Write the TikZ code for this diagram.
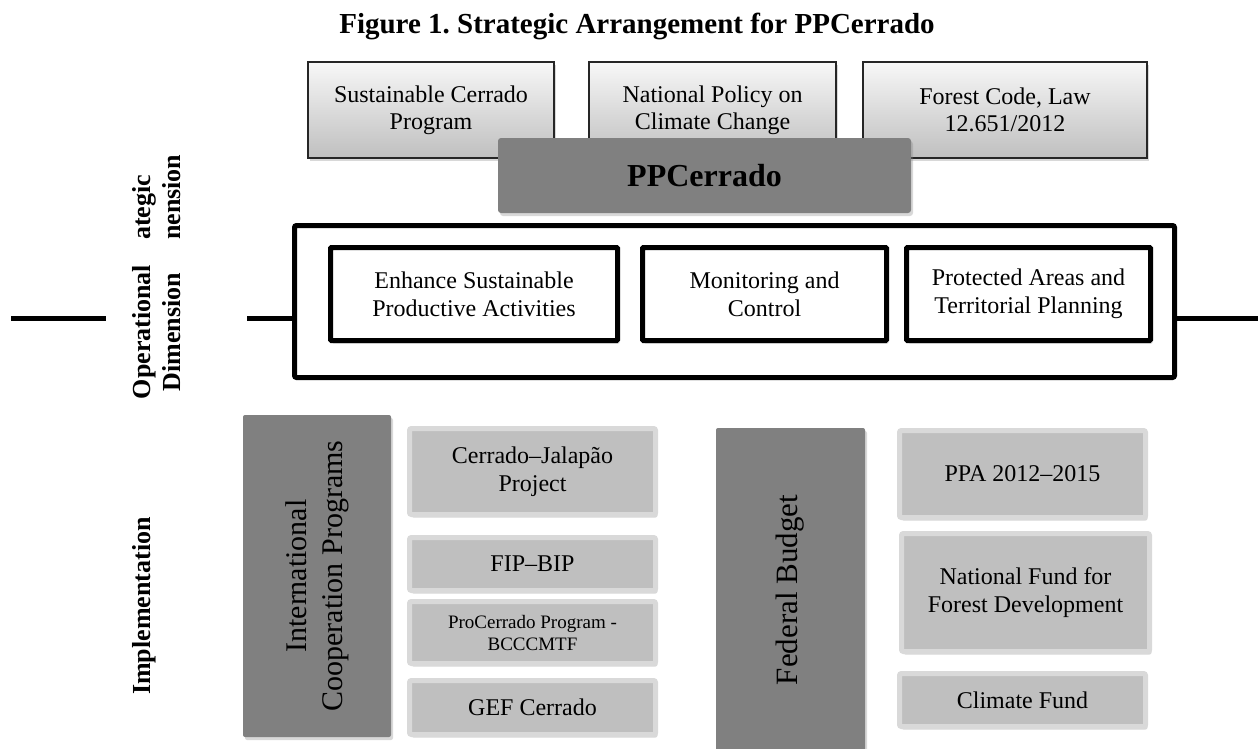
\documentclass[tikz,border=0pt]{standalone}
\usepackage{fontspec}
\setmainfont{Liberation Serif}
\frenchspacing
\usepackage{tikz}
\usetikzlibrary{shadows}
\tikzstyle{softshadow} = [drop shadow={shadow xshift=2pt, shadow yshift=-3pt, opacity=0.3}]
\tikzstyle{policy} = [rectangle, draw=black!85, line width=1.5pt, top color=black!3, bottom color=black!25, minimum height=96, align=center, font=\fontsize{24}{27}\selectfont, softshadow]
\tikzstyle{core} = [rectangle, rounded corners=3pt, fill=black!50, minimum width=413, minimum height=75, font=\bfseries\fontsize{32}{36}\selectfont, softshadow]
\tikzstyle{opframe} = [rectangle, draw=black, line width=5pt, rounded corners=2pt, minimum width=880, minimum height=152]
\tikzstyle{action} = [rectangle, draw=black, line width=5pt, rounded corners=1pt, fill=white, minimum height=93, align=center, font=\fontsize{24}{28}\selectfont, softshadow]
\tikzstyle{darkbox} = [rectangle, rounded corners=2pt, fill=black!50, minimum width=148, minimum height=322, softshadow]
\tikzstyle{fund} = [rectangle, draw=black!15, line width=5pt, rounded corners=2pt, fill=black!25, minimum width=246, align=center, font=\fontsize{24}{28}\selectfont, softshadow]
\tikzstyle{dim} = [rotate=90, align=center, font=\bfseries\fontsize{26}{30}\selectfont]
\tikzstyle{vlabel} = [rotate=90, align=center]
\tikzstyle{link} = [line width=5pt]

\begin{document}
\begin{tikzpicture}[x=1pt, y=-1pt]
				\useasboundingbox[fill=white] (0,0) rectangle (1258,748);
				\node(title) [anchor=base, font=\bfseries\fontsize{29}{33}\selectfont] at (637,33) {Figure 1. Strategic Arrangement for PPCerrado};
				%----------------------------------------------------%
				\node(prog) [policy, minimum width=246] at (431,110) {Sustainable Cerrado\\Program};
				\node(pnmc) [policy, minimum width=247] at (712.5,110) {National Policy on\\Climate Change};
				\node(code) [policy, minimum width=284] at (1005,110) {Forest Code, Law\\12.651/2012};
				\node(ppc) [core] at (704.5,175.5) {PPCerrado};
				
				%----------------------------------------------------%
				\node(frame) [opframe] at (734.5,301.5) {};
				\node(act1) [action, minimum width=287] at (474,294) {Enhance Sustainable\\Productive Activities};
				\node(act2) [action, minimum width=244] at (764.5,294) {Monitoring and\\Control};
				\node(act3) [action, minimum width=244] at (1028.5,294) {Protected Areas and\\Territorial Planning};
				
				\coordinate (l0) at (11,318);
				\coordinate (l1) at (106,318);
				\coordinate (l2) at (247,318);
				\coordinate (r1) at (1258,318);
				\draw[link] (l0) -- (l1);
				\draw[link] (l2) -- (frame.west |- l2);
				\draw[link] (frame.east |- r1) -- (r1);
				
				\node(strat) [dim, align=left, anchor=west, inner sep=0pt] at (157,240) {ategic\\nension};
				\node(oper) [dim] at (157,332) {Operational\\Dimension};
				\node(impl) [dim] at (144,606) {Implementation};
				
				%----------------------------------------------------%
				\node(icp) [darkbox] at (317,576) {};
				\node(icptext) [vlabel, font=\fontsize{30}{36}\selectfont] at (icp.center) {International\\Cooperation Programs};
				\node(cjp) [fund, minimum height=86] at (532.5,471.5) {Cerrado--Jalapão\\Project};
				\node(fip) [fund, minimum height=53] at (532.5,564) {FIP--BIP};
				\node(proc) [fund, minimum height=62, font=\fontsize{19}{22}\selectfont] at (532.5,632.5) {ProCerrado Program -\\BCCCMTF};
				\node(gef) [fund, minimum height=54] at (532.5,707.5) {GEF Cerrado};
				
				%----------------------------------------------------%
				\node(fed) [darkbox, minimum width=149, minimum height=324] at (790.5,590) {};
				\node(fedtext) [vlabel, font=\fontsize{31}{36}\selectfont] at (fed.center) {Federal Budget};
				\node(ppa) [fund, minimum height=87] at (1022.5,474) {PPA 2012--2015};
				\node(fnd) [fund, minimum width=248, minimum height=118] at (1025.5,592.5) {National Fund for\\Forest Development};
				\node(clim) [fund, minimum height=53] at (1022.5,700) {Climate Fund};
			\end{tikzpicture}
\end{document}
